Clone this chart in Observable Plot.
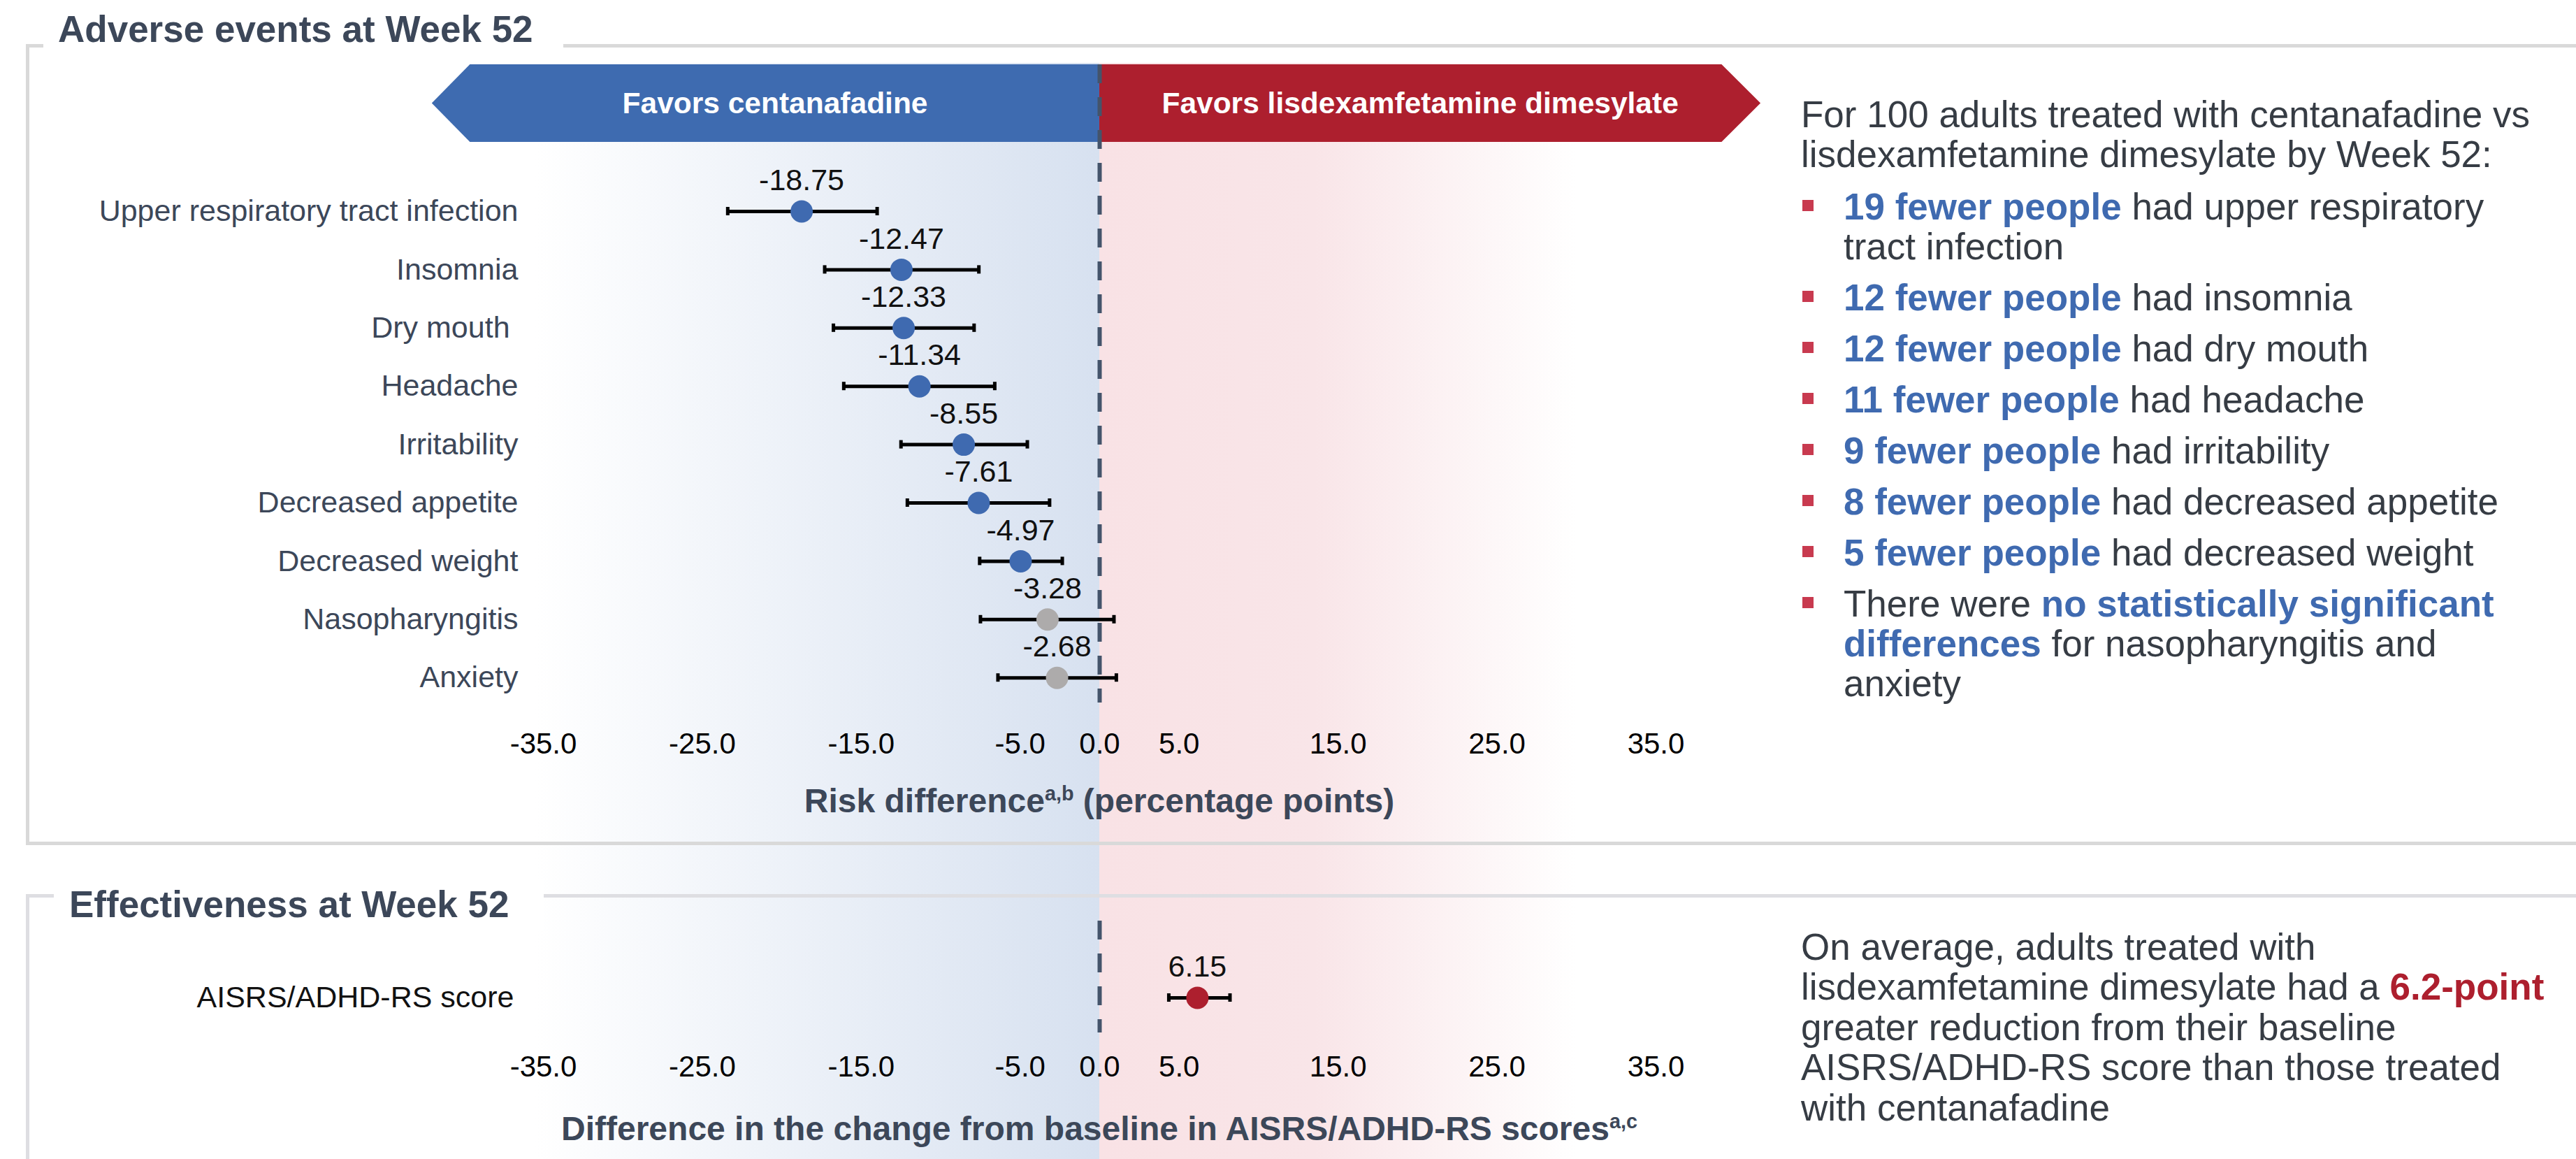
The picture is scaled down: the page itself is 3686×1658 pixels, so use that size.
<!DOCTYPE html>
<html>
<head>
<meta charset="utf-8">
<script src="https://cdn.jsdelivr.net/npm/d3@7"></script>
<script src="https://cdn.jsdelivr.net/npm/@observablehq/plot@0.6"></script>
<style>
  html, body { margin: 0; padding: 0; background: #fff; }
  #root { position: relative; width: 3686px; height: 1658px; overflow: hidden; background: #fff;
          font-family: "Liberation Sans", Arial, Helvetica, sans-serif; }
  #root > * { position: absolute; }
  .line { white-space: pre; display: block; }
</style>
</head>
<body>
<div id="root"></div>
<script>
// ---------------- data ----------------
const panelTitles = ["Adverse events at Week 52", "Effectiveness at Week 52"];
const favorLabels = ["Favors centanafadine", "Favors lisdexamfetamine dimesylate"];

const events   = ["Upper respiratory tract infection", "Insomnia", "Dry mouth ", "Headache", "Irritability",
                  "Decreased appetite", "Decreased weight", "Nasopharyngitis", "Anxiety"];
const riskDiff = [-18.75, -12.47, -12.33, -11.34, -8.55, -7.61, -4.97, -3.28, -2.68];
const riskLow  = [-23.4, -17.3, -16.75, -16.1, -12.5, -12.1, -7.55, -7.5, -6.4];
const riskHigh = [-14.0, -7.6, -7.9, -6.6, -4.55, -3.15, -2.35, 0.9, 1.05];

const effCategory = ["AISRS/ADHD-RS score"];
const effDiff = [6.15];
const effLow  = [4.35];
const effHigh = [8.2];

const tickValues = [-35, -25, -15, -5, 0, 5, 15, 25, 35];
const xDomain = [-35, 35];

// background bands (risk-difference units) and banner extents
const bandFrom = [-35.5, 0];
const bandTo   = [0, 30];
const bannerTip  = [-42, 41.6];
const bannerBody = [-39.6, 39.15];

const axisTitles = [["Risk difference", "a,b", " (percentage points)"],
                    ["Difference in the change from baseline in AISRS/ADHD-RS scores", "a,c", ""]];

const introLines = ["For 100 adults treated with centanafadine vs", "lisdexamfetamine dimesylate by Week 52:"];
// each bullet: lines, each line: [text, emphasised?] segments
const bullets = [
  [[["19 fewer people", true], [" had upper respiratory", false]], [["tract infection", false]]],
  [[["12 fewer people", true], [" had insomnia", false]]],
  [[["12 fewer people", true], [" had dry mouth", false]]],
  [[["11 fewer people", true], [" had headache", false]]],
  [[["9 fewer people", true], [" had irritability", false]]],
  [[["8 fewer people", true], [" had decreased appetite", false]]],
  [[["5 fewer people", true], [" had decreased weight", false]]],
  [[["There were ", false], ["no statistically significant", true]],
   [["differences", true], [" for nasopharyngitis and", false]],
   [["anxiety", false]]]
];
const effLines = [
  [["On average, adults treated with", false]],
  [["lisdexamfetamine dimesylate had a ", false], ["6.2-point", true]],
  [["greater reduction from their baseline", false]],
  [["AISRS/ADHD-RS score than those treated", false]],
  [["with centanafadine", false]]
];

// ---------------- style ----------------
const FONT = '"Liberation Sans", Arial, Helvetica, sans-serif';
const W = 3686, H = 1658;
const SLATE = "#3c4759", TEXT = "#363c44";
const BLUE = "#3f6ab0", GRAY = "#adabab", RED = "#ad1f2e";
const BANNER_BLUE = "#3e6bb0", BANNER_RED = "#ad1f2e", BULLET = "#c83a4f";
const ML = 777, MR = 1317;
const ROW_STEP = 83.4, CAP = 12;
const PAD = 1 - CAP / ROW_STEP;
function bandRange(c0, n) {
  const r0 = c0 - ROW_STEP * (1 + PAD) / 2;
  return [r0, r0 + ROW_STEP * (n + PAD)];
}

const root = document.getElementById("root");
function el(tag, style, html, parent = root) {
  const e = document.createElement(tag);
  Object.assign(e.style, style);
  if (html !== undefined) e.innerHTML = html;
  parent.appendChild(e);
  return e;
}
function topFor(baseline, fs, lh) { return baseline - ((lh - 1.117 * fs) / 2 + 0.905 * fs); }
const esc = s => s.replace(/&/g, "&amp;").replace(/</g, "&lt;");

// ---------------- background gradient plot ----------------
const bands = bandFrom.map((a, i) => ({a, b: bandTo[i]}));
const bg = Plot.plot({
  width: W, height: H, marginTop: 90, marginBottom: 0, marginLeft: ML, marginRight: MR,
  x: {domain: xDomain, axis: null, label: null},
  style: {background: "transparent", overflow: "visible"},
  marks: [
    Plot.rect([bands[0]], {x1: "a", x2: "b", fill: "url(#gradBlue)"}),
    Plot.rect([bands[1]], {x1: "a", x2: "b", fill: "url(#gradRed)"})
  ]
});
{
  const defs = d3.select(bg).insert("defs", ":first-child");
  const gb = defs.append("linearGradient").attr("id", "gradBlue").attr("x1", 0).attr("x2", 1).attr("y1", 0).attr("y2", 0);
  gb.append("stop").attr("offset", 0).attr("stop-color", "#ffffff");
  gb.append("stop").attr("offset", 1).attr("stop-color", "#d7e1f0");
  const gr = defs.append("linearGradient").attr("id", "gradRed").attr("x1", 0).attr("x2", 1).attr("y1", 0).attr("y2", 0);
  gr.append("stop").attr("offset", 0).attr("stop-color", "#f9e2e5");
  gr.append("stop").attr("offset", 0.45).attr("stop-color", "#f9e5e8");
  gr.append("stop").attr("offset", 1).attr("stop-color", "#ffffff");
}
bg.style.left = "0px"; bg.style.top = "0px";
root.appendChild(bg);

// ---------------- upper plot ----------------
const upperData = events.map((name, i) => ({name, v: riskDiff[i], lo: riskLow[i], hi: riskHigh[i]}));
const UP_H = 1210;
const upper = Plot.plot({
  width: W, height: UP_H, marginTop: 92, marginBottom: 205, marginLeft: ML, marginRight: MR,
  x: {domain: xDomain, label: null},
  y: {type: "band", domain: events, range: bandRange(302, events.length), padding: PAD, round: false, label: null},
  color: {type: "identity"},
  style: {background: "transparent", overflow: "visible", fontFamily: FONT},
  marks: [
    Plot.ruleX([0], {stroke: "#44546b", strokeWidth: 6, strokeDasharray: "27,20"}),
    Plot.ruleY(upperData, {y: "name", x1: "lo", x2: "hi", stroke: "#000", strokeWidth: 5}),
    Plot.tickX(upperData, {x: "lo", y: "name", stroke: "#000", strokeWidth: 5}),
    Plot.tickX(upperData, {x: "hi", y: "name", stroke: "#000", strokeWidth: 5}),
    Plot.dot(upperData, {x: "v", y: "name", r: 16, fill: d => (d.hi < 0 ? BLUE : GRAY)}),
    Plot.text(upperData, {x: "v", y: "name", text: d => d.v.toFixed(2), dy: -44, fontSize: 43, fill: "#111"}),
    Plot.axisY({tickSize: 0, tickPadding: 36, fontSize: 43, color: SLATE, label: null}),
    Plot.axisX({ticks: tickValues, tickFormat: d => d.toFixed(1), tickSize: 0, tickPadding: 43,
                fontSize: 42, color: "#000", label: null, anchor: "bottom"})
  ]
});

// ---------------- lower plot ----------------
const LOW_TOP = 1240, LOW_H = H - LOW_TOP;
const lowerData = effCategory.map((name, i) => ({name, v: effDiff[i], lo: effLow[i], hi: effHigh[i]}));
const lower = Plot.plot({
  width: W, height: LOW_H, marginTop: 77, marginBottom: 181, marginLeft: ML, marginRight: MR,
  x: {domain: xDomain, label: null},
  y: {type: "band", domain: effCategory, range: bandRange(187, effCategory.length), padding: PAD, round: false, label: null},
  style: {background: "transparent", overflow: "visible", fontFamily: FONT},
  marks: [
    Plot.ruleX([0], {stroke: "#44546b", strokeWidth: 6, strokeDasharray: "27,20"}),
    Plot.ruleY(lowerData, {y: "name", x1: "lo", x2: "hi", stroke: "#000", strokeWidth: 5}),
    Plot.tickX(lowerData, {x: "lo", y: "name", stroke: "#000", strokeWidth: 5}),
    Plot.tickX(lowerData, {x: "hi", y: "name", stroke: "#000", strokeWidth: 5}),
    Plot.dot(lowerData, {x: "v", y: "name", r: 16, fill: RED}),
    Plot.text(lowerData, {x: "v", y: "name", text: d => d.v.toFixed(2), dy: -44, fontSize: 43, fill: "#111"}),
    Plot.axisY({tickSize: 0, tickPadding: 42, fontSize: 43, color: "#111", label: null}),
    Plot.axisX({ticks: tickValues, tickFormat: d => d.toFixed(1), tickSize: 0, tickPadding: 33,
                fontSize: 42, color: "#000", label: null, anchor: "bottom"})
  ]
});

const xs = upper.scale("x");
const X = v => xs.apply(v);

// ---------------- banners ----------------
{
  const top = 92, h = 111;
  const lTip = X(bannerTip[0]), lBody = X(bannerBody[0]), zero = X(0);
  const rBody = X(bannerBody[1]), rTip = X(bannerTip[1]);
  const wl = zero - lTip, wr = rTip - zero;
  el("div", {left: lTip + "px", top: top + "px", width: wl + "px", height: h + "px", background: BANNER_BLUE,
    clipPath: `polygon(0 50%, ${(lBody - lTip) / wl * 100}% 0, 100% 0, 100% 100%, ${(lBody - lTip) / wl * 100}% 100%)`});
  el("div", {left: zero + "px", top: top + "px", width: wr + "px", height: h + "px", background: BANNER_RED,
    clipPath: `polygon(0 0, ${(rBody - zero) / wr * 100}% 0, 100% 50%, ${(rBody - zero) / wr * 100}% 100%, 0 100%)`});
  const cL = ((lTip + lBody) / 2 + zero) / 2, cR = ((rTip + rBody) / 2 + zero) / 2;
  [[cL, favorLabels[0]], [cR, favorLabels[1]]].forEach(([c, t]) => {
    el("div", {left: c + "px", transform: "translateX(-50%)", top: top + "px", height: h + "px", lineHeight: h + "px",
      whiteSpace: "nowrap", color: "#fff", fontWeight: "bold", fontSize: "42.5px"}, esc(t));
  });
}

// ---------------- panel frames ----------------
el("div", {left: "37px", top: "63px", width: "3800px", height: (1209 - 63) + "px", boxSizing: "border-box",
  borderTop: "5px solid #d9d9d9", borderLeft: "5px solid #d9d9d9", borderBottom: "5px solid #d9d9d9"});
el("div", {left: "37px", top: "1279px", width: "3800px", height: "600px", boxSizing: "border-box",
  borderTop: "5px solid #dedee2", borderLeft: "5px solid #dedee2"});

upper.style.left = "0px"; upper.style.top = "0px";
root.appendChild(upper);
lower.style.left = "0px"; lower.style.top = LOW_TOP + "px";
root.appendChild(lower);

// ---------------- panel titles ----------------
el("div", {left: "62px", top: "10px", width: "744px", height: "72px", background: "#fff"});
el("div", {left: "83px", top: topFor(60, 53, 53) + "px", lineHeight: "53px", fontSize: "53px", fontWeight: "bold",
  color: SLATE, whiteSpace: "nowrap"}, esc(panelTitles[0]));
el("div", {left: "77px", top: "1258px", width: "701px", height: "72px", background: "#fff"});
el("div", {left: "99px", top: topFor(1312, 53, 53) + "px", lineHeight: "53px", fontSize: "53px", fontWeight: "bold",
  color: SLATE, whiteSpace: "nowrap"}, esc(panelTitles[1]));

// ---------------- axis titles ----------------
const xc = (X(xDomain[0]) + X(xDomain[1])) / 2;
const sup = s => `<span style="font-size:0.6em;position:relative;top:-0.6em">${esc(s)}</span>`;
[[1163, axisTitles[0]], [1632, axisTitles[1]]].forEach(([base, [a, s, b]]) => {
  el("div", {left: xc + "px", transform: "translateX(-50%)", top: topFor(base, 48, 48) + "px", whiteSpace: "nowrap",
    lineHeight: "48px", fontSize: "48px", fontWeight: "bold", color: SLATE}, esc(a) + sup(s) + esc(b));
});

// ---------------- right-hand text ----------------
const lineHTML = segs => segs.map(([t, em]) => em ? `<b style="color:${em === "red" ? RED : BLUE}">${esc(t)}</b>` : esc(t)).join("");
{
  const FS = 53, LH = 57;
  const box = el("div", {left: "2577px", top: topFor(182, FS, LH) + "px", fontSize: FS + "px",
    lineHeight: LH + "px", color: TEXT});
  const intro = el("div", {marginBottom: "18px"}, undefined, box);
  introLines.forEach(t => { const l = el("span", {}, esc(t), intro); l.className = "line"; });
  const firstBase = (LH - 1.117 * FS) / 2 + 0.905 * FS;
  bullets.forEach((lines, i) => {
    const b = el("div", {position: "relative", paddingLeft: "61px", marginTop: i ? "16px" : "0px"}, undefined, box);
    el("span", {position: "absolute", left: "2px", top: (firstBase - 28) + "px", width: "16px", height: "16px",
      background: BULLET}, undefined, b);
    lines.forEach(segs => { const l = el("span", {}, lineHTML(segs), b); l.className = "line"; });
  });

  const LH2 = 57.5;
  const box2 = el("div", {left: "2577px", top: topFor(1373, FS, LH2) + "px", fontSize: FS + "px",
    lineHeight: LH2 + "px", color: TEXT});
  effLines.forEach(segs => {
    const l = el("span", {}, lineHTML(segs.map(([t, em]) => [t, em ? "red" : false])), box2);
    l.className = "line";
  });
}
</script>
</body>
</html>
